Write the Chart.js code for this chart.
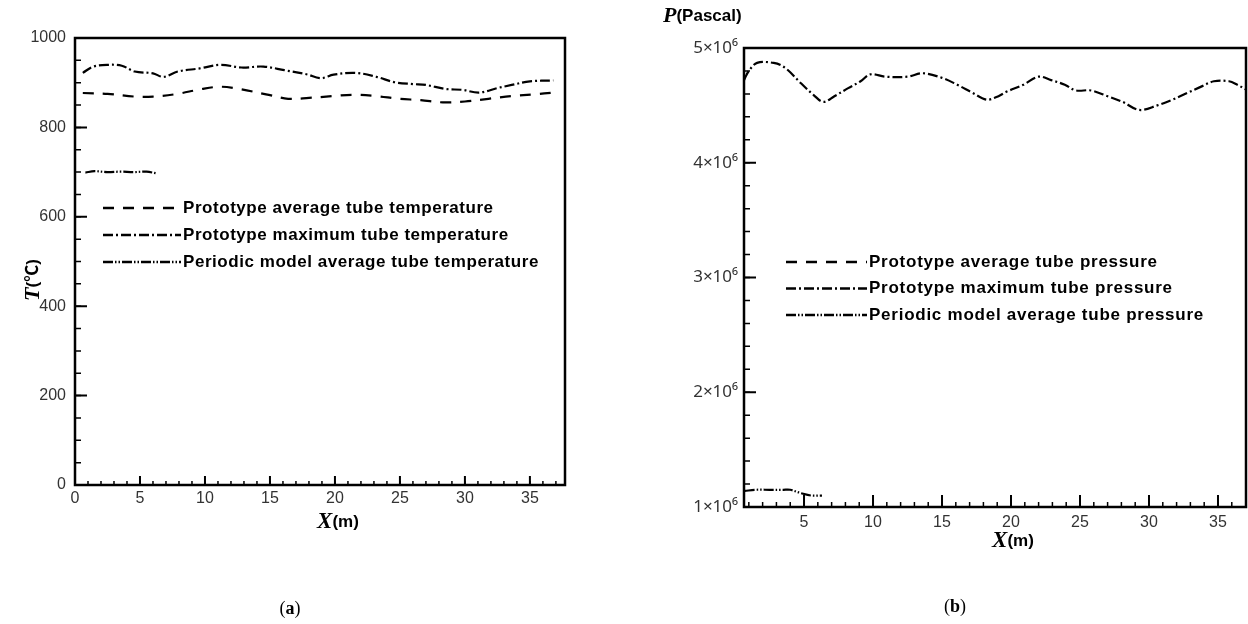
<!DOCTYPE html>
<html><head><meta charset="utf-8">
<script src="https://cdn.jsdelivr.net/npm/chart.js@4.4.1/dist/chart.umd.min.js"></script>
<style>
html,body{margin:0;padding:0;background:#fff;overflow:hidden}
#wrap{position:relative;width:1248px;height:624px;background:#fff}
canvas{position:absolute;top:0}
</style></head><body>
<div id="wrap">
<canvas id="ca" width="624" height="624" style="left:0px"></canvas>
<canvas id="cb" width="624" height="624" style="left:624px"></canvas>
</div>
<script>
// ---------- Chart (a): temperature ----------
const tempLabels = ["Prototype average tube temperature", "Prototype maximum tube temperature", "Periodic model average tube temperature"];
const avgTX = [0.6, 2.5, 4.6, 6.0, 7.9, 9.6, 11.2, 12.8, 14.7, 16.4, 18.0, 19.8, 21.4, 23.2, 24.9, 26.6, 28.3, 30.0, 31.8, 33.6, 35.4, 36.8];
const avgT  = [877, 875, 869, 869, 875, 885, 891, 885, 874, 864, 866, 870, 873, 870, 864, 861, 856, 858, 864, 870, 874, 878];
const maxTX = [0.6, 1.4, 2.5, 3.6, 4.6, 6.0, 6.8, 7.9, 9.6, 11.2, 12.8, 14.5, 16.1, 17.8, 18.9, 19.9, 21.6, 23.2, 24.6, 26.0, 27.0, 28.5, 29.8, 31.1, 32.5, 33.6, 35.0, 36.8];
const maxT  = [922, 936, 940, 938, 925, 921, 913, 925, 932, 940, 934, 936, 928, 919, 910, 918, 922, 913, 901, 897, 895, 886, 884, 878, 888, 895, 903, 905];
const perTX = [0.8, 1.5, 2.5, 3.5, 4.5, 5.5, 6.3];
const perT  = [699, 702, 700, 701, 700, 701, 697];
const tempXTicks = [0, 5, 10, 15, 20, 25, 30, 35];
const tempYTicks = [0, 200, 400, 600, 800, 1000];
const tempYTickLabels = ["0", "200", "400", "600", "800", "1000"];

// ---------- Chart (b): pressure ----------
const presLabels = ["Prototype average tube pressure", "Prototype maximum tube pressure", "Periodic model average tube pressure"];
const avgPX = [];
const avgP  = [];
const maxPX = [0.65, 1.0, 1.6, 2.8, 3.6, 4.8, 5.7, 6.4, 7.2, 8.2, 9.1, 9.8, 10.9, 12.5, 13.6, 15.0, 16.1, 17.2, 18.2, 18.9, 19.7, 20.9, 22.0, 22.9, 23.9, 24.7, 25.8, 27.0, 28.1, 29.3, 30.6, 31.7, 32.8, 33.9, 34.7, 35.8, 36.4, 37.0];
const maxP  = [4.72e6, 4.80e6, 4.87e6, 4.87e6, 4.83e6, 4.69e6, 4.59e6, 4.53e6, 4.58e6, 4.65e6, 4.71e6, 4.77e6, 4.75e6, 4.75e6, 4.78e6, 4.74e6, 4.68e6, 4.61e6, 4.55e6, 4.57e6, 4.62e6, 4.68e6, 4.75e6, 4.72e6, 4.68e6, 4.63e6, 4.63e6, 4.58e6, 4.53e6, 4.46e6, 4.50e6, 4.55e6, 4.61e6, 4.67e6, 4.71e6, 4.71e6, 4.68e6, 4.64e6];
const perPX = [0.7, 1.5, 2.5, 3.5, 4.0, 4.8, 5.5, 6.3];
const perP  = [1.14e6, 1.15e6, 1.15e6, 1.15e6, 1.15e6, 1.12e6, 1.10e6, 1.10e6];
const presXTicks = [5, 10, 15, 20, 25, 30, 35];
const presYTicks = [1e6, 2e6, 3e6, 4e6, 5e6];
const presYTickLabels = ["1×10⁶", "2×10⁶", "3×10⁶", "4×10⁶", "5×10⁶"];

const dashA = [11, 9];
const dashB = [10, 3, 2, 3];
const dashC = [10, 2, 1.5, 2, 1.5, 2];

function pts(xs, ys){ return xs.map((x,i)=>({x:x, y:ys[i]})); }
function range(a,b,s){ const r=[]; for(let v=a; v<=b+1e-9; v+=s) r.push(+v.toFixed(6)); return r; }

const frameTicks = {
  id:'frameTicks',
  afterDraw(chart){
    const o = chart.options.plugins.frameTicks; if(!o) return;
    const {ctx, chartArea:a} = chart; const x = chart.scales.x, y = chart.scales.y;
    ctx.save();
    ctx.strokeStyle = '#000';
    ctx.lineWidth = 2.5;
    ctx.strokeRect(a.left, a.top, a.right-a.left, a.bottom-a.top);
    ctx.lineWidth = 2;
    ctx.beginPath();
    o.xMajor.forEach(v=>{ const p=x.getPixelForValue(v); if(p<a.left-1||p>a.right+1) return; ctx.moveTo(p,a.bottom); ctx.lineTo(p,a.bottom-o.xMajorLen); });
    o.yMajor.forEach(v=>{ const p=y.getPixelForValue(v); ctx.moveTo(a.left,p); ctx.lineTo(a.left+o.yMajorLen,p); });
    ctx.stroke();
    ctx.lineWidth = 1.5;
    ctx.beginPath();
    o.xMinor.forEach(v=>{ const p=x.getPixelForValue(v); if(p<a.left+1||p>a.right-1) return; ctx.moveTo(p,a.bottom); ctx.lineTo(p,a.bottom-o.xMinorLen); });
    o.yMinor.forEach(v=>{ const p=y.getPixelForValue(v); if(p<a.top+1||p>a.bottom-1) return; ctx.moveTo(a.left,p); ctx.lineTo(a.left+o.yMinorLen,p); });
    ctx.stroke();
    ctx.restore();
  }
};

const sideLegend = {
  id:'sideLegend',
  afterDraw(chart){
    const o = chart.options.plugins.sideLegend; if(!o) return;
    const ctx = chart.ctx;
    ctx.save();
    chart.data.datasets.forEach((ds,i)=>{
      const yy = o.y0 + i*o.dy;
      ctx.strokeStyle = '#000'; ctx.lineWidth = 2.5;
      ctx.setLineDash(ds.borderDash || []);
      ctx.beginPath(); ctx.moveTo(o.x0, yy); ctx.lineTo(o.x1, yy); ctx.stroke();
      ctx.setLineDash([]);
      ctx.fillStyle = '#000'; ctx.font = o.font; ctx.textBaseline = 'middle'; ctx.textAlign = 'left';
      if ('letterSpacing' in ctx) ctx.letterSpacing = o.spacing || '0px';
      ctx.fillText(ds.label, o.x1 + 2, yy);
    });
    ctx.restore();
  }
};

const richText = {
  id:'richText',
  afterDraw(chart){
    const items = chart.options.plugins.richText; if(!items) return;
    const ctx = chart.ctx;
    items.forEach(it=>{
      ctx.save();
      ctx.fillStyle = '#000'; ctx.textBaseline = 'middle'; ctx.textAlign = 'left';
      let w = 0;
      it.parts.forEach(p=>{ ctx.font = p.font; w += ctx.measureText(p.text).width + (p.gap||0); });
      ctx.translate(it.x, it.y);
      if(it.rotate) ctx.rotate(it.rotate);
      let cx = it.align === 'left' ? 0 : -w/2;
      it.parts.forEach(p=>{ ctx.font = p.font; ctx.fillText(p.text, cx, p.dy||0); cx += ctx.measureText(p.text).width + (p.gap||0); });
      ctx.restore();
    });
  }
};

Chart.register(frameTicks, sideLegend, richText);

const sansB = "'Liberation Sans',Arial,sans-serif";

function baseLine(label, data, dash){
  return { label: label, data: data, borderColor:'#000', borderWidth:2.2, borderDash: dash,
           pointRadius:0, tension:0.35, fill:false, showLine:true };
}

// Chart (a)
new Chart(document.getElementById('ca'), {
  type:'line',
  data:{ datasets:[
    baseLine(tempLabels[0], pts(avgTX, avgT), dashA),
    baseLine(tempLabels[1], pts(maxTX, maxT), dashB),
    baseLine(tempLabels[2], pts(perTX, perT), dashC)
  ]},
  options:{
    responsive:false, animation:false, devicePixelRatio:1,
    layout:{ padding:{ top:38, right:59, left:0, bottom:0 } },
    scales:{
      x:{ type:'linear', min:0, max:37.7,
          afterFit(s){ s.height = 139; },
          afterBuildTicks(s){ s.ticks = tempXTicks.map(v=>({value:v})); },
          ticks:{ color:'#333', font:{ family:"'Liberation Sans',Arial,sans-serif", size:16 }, padding:4, maxRotation:0, autoSkip:false },
          grid:{ display:false, drawTicks:false }, border:{ display:false } },
      y:{ type:'linear', min:0, max:1000,
          afterFit(s){ s.width = 75; },
          afterBuildTicks(s){ s.ticks = tempYTicks.map(v=>({value:v})); },
          ticks:{ color:'#333', font:{ family:"'Liberation Sans',Arial,sans-serif", size:16 }, padding:9,
                  callback:(v)=> tempYTickLabels[tempYTicks.indexOf(v)] },
          grid:{ display:false, drawTicks:false }, border:{ display:false } }
    },
    plugins:{
      legend:{ display:false }, tooltip:{ enabled:false },
      frameTicks:{ xMajor: tempXTicks, xMinor: range(0,37,1), yMajor: tempYTicks, yMinor: range(0,1000,50),
                   xMajorLen:9, xMinorLen:4, yMajorLen:12, yMinorLen:6 },
      sideLegend:{ x0:103, x1:181, y0:208, dy:27, font:"bold 17px " + sansB, spacing:'0.55px' },
      richText:[
        { x:33, y:280, rotate:-Math.PI/2, parts:[ {text:'T', font:"bold italic 22px 'Liberation Serif',serif"}, {text:'(℃)', font:"bold 17px 'Liberation Sans','Noto Sans CJK SC',sans-serif"} ] },
        { x:338, y:522, parts:[ {text:'X', font:"bold italic 23px 'Liberation Serif',serif"}, {text:'(m)', font:"bold 17px 'Liberation Sans',sans-serif"} ] },
        { x:290, y:609, parts:[ {text:'(', font:"18px 'Liberation Serif',serif"}, {text:'a', font:"bold 18px 'Liberation Serif',serif"}, {text:')', font:"18px 'Liberation Serif',serif"} ] }
      ]
    }
  }
});

// Chart (b)
new Chart(document.getElementById('cb'), {
  type:'line',
  data:{ datasets:[
    baseLine(presLabels[0], pts(avgPX, avgP), dashA),
    baseLine(presLabels[1], pts(maxPX, maxP), dashB),
    baseLine(presLabels[2], pts(perPX, perP), dashC)
  ]},
  options:{
    responsive:false, animation:false, devicePixelRatio:1,
    layout:{ padding:{ top:48, right:2, left:0, bottom:0 } },
    scales:{
      x:{ type:'linear', min:0.65, max:37.03,
          afterFit(s){ s.height = 117; },
          afterBuildTicks(s){ s.ticks = presXTicks.map(v=>({value:v})); },
          ticks:{ color:'#333', font:{ family:"'Liberation Sans',Arial,sans-serif", size:16 }, padding:6, maxRotation:0, autoSkip:false },
          grid:{ display:false, drawTicks:false }, border:{ display:false } },
      y:{ type:'linear', min:1e6, max:5e6,
          afterFit(s){ s.width = 120; },
          afterBuildTicks(s){ s.ticks = presYTicks.map(v=>({value:v})); },
          ticks:{ color:'#333', font:{ family:"'Noto Sans','Open Sans',sans-serif", size:17 }, padding:6,
                  callback:(v)=> presYTickLabels[presYTicks.indexOf(v)] },
          grid:{ display:false, drawTicks:false }, border:{ display:false } }
    },
    plugins:{
      legend:{ display:false }, tooltip:{ enabled:false },
      frameTicks:{ xMajor: presXTicks, xMinor: range(1,37,1), yMajor: presYTicks, yMinor: range(1e6,5e6,2e5),
                   xMajorLen:12, xMinorLen:5, yMajorLen:12, yMinorLen:6 },
      sideLegend:{ x0:162, x1:243, y0:262, dy:26.5, font:"bold 17px " + sansB, spacing:'0.75px' },
      richText:[
        { x:39, y:16, align:'left', parts:[ {text:'P', font:"bold italic 22px 'Liberation Serif',serif"}, {text:'(Pascal)', font:"bold 17px 'Liberation Sans',sans-serif"} ] },
        { x:389, y:541, parts:[ {text:'X', font:"bold italic 23px 'Liberation Serif',serif"}, {text:'(m)', font:"bold 17px 'Liberation Sans',sans-serif"} ] },
        { x:331, y:607, parts:[ {text:'(', font:"18px 'Liberation Serif',serif"}, {text:'b', font:"bold 18px 'Liberation Serif',serif"}, {text:')', font:"18px 'Liberation Serif',serif"} ] }
      ]
    }
  }
});
</script>
</body></html>
